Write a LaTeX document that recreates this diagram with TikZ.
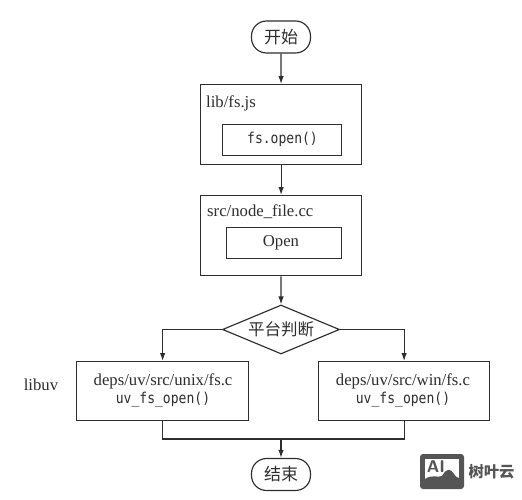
\documentclass[tikz,border=0pt]{standalone}
\usepackage{fontspec}
\setmainfont{Liberation Serif}
\newfontfamily\codefont[FakeStretch=0.87]{DejaVu Sans Mono}
\newfontfamily\cjk{Noto Sans CJK SC}
\usetikzlibrary{arrows.meta,shapes.geometric}
\definecolor{ink}{HTML}{2E2E2E}
\definecolor{logo}{HTML}{555555}
\tikzset{
  x=1pt,y=-1pt,
  box/.style={draw=ink,line width=1.25pt,fill=white,inner sep=0pt,anchor=north west},
  innerbox/.style={draw=ink,line width=1.15pt,inner sep=0pt,anchor=north west},
  term/.style={draw=ink,line width=1.15pt,rounded corners=15pt,inner sep=0pt,minimum width=59pt,minimum height=32pt,text=ink},
  dec/.style={draw=ink,line width=1.15pt,diamond,aspect=2.4,inner sep=0pt,minimum width=117pt,minimum height=49pt,text=ink},
  conn/.style={draw=ink,line width=1.15pt,-{Latex[length=8pt,width=5.5pt]}},
  plainconn/.style={draw=ink,line width=1.15pt},
  lab/.style={text=ink,inner sep=0pt,font=\fontsize{16.7}{18}\selectfont},
  code/.style={text=ink,inner sep=0pt,font=\codefont\fontsize{15}{17}\selectfont}
}
\begin{document}
\begin{tikzpicture}
\useasboundingbox (0,0) rectangle (522,500);
\node[term,font=\cjk\fontsize{17}{18}\selectfont] (start) at (281,37) {开始};
\node[box,minimum width=161pt,minimum height=80pt] (lib) at (200,84) {};
\node[lab,anchor=west] (libt) at (206,103) {lib/fs.js};
\node[innerbox,minimum width=119pt,minimum height=31pt] (libi) at (222,124) {};
\node[code] (libc) at (282.5,139.5) {fs.open()};
\node[box,minimum width=161pt,minimum height=80pt] (src) at (200,195) {};
\node[lab,anchor=west] (srct) at (207,212) {src/node\_file.cc};
\node[innerbox,minimum width=115pt,minimum height=31pt] (srci) at (226,227) {};
\node[lab] (open) at (281,243) {Open};
\node[dec,font=\cjk\fontsize{16.5}{18}\selectfont] (d) at (281,329.5) {平台判断};
\node[box,minimum width=172pt,minimum height=59pt] (l) at (76,361) {};
\node[lab] (lt) at (163,381) {deps/uv/src/unix/fs.c};
\node[code] (lc) at (163,400) {uv\_fs\_open()};
\node[box,minimum width=171pt,minimum height=59pt] (r) at (318,361) {};
\node[lab] (rt) at (403,381) {deps/uv/src/win/fs.c};
\node[code] (rc) at (403,400) {uv\_fs\_open()};
\node[lab] (uv) at (41,385) {libuv};
\node[term,font=\cjk\fontsize{17}{18}\selectfont] (end) at (281,474.5) {结束};
\coordinate (m) at (281,439);
\draw[conn] (start) -- (lib);
\draw[conn] (lib) -- (src);
\draw[conn] (src) -- (d);
\draw[conn] (d.west) -| (l.north);
\draw[conn] (d.east) -| (r.north);
\draw[plainconn] (l.south) |- (m);
\draw[plainconn] (r.south) |- (m);
\draw[conn] (m) -- (end);
% logo
\fill[logo,rounded corners=3pt] (420,454) rectangle (464,489);
\fill[white] (425,459) rectangle (459,484);
\fill[logo] (425,484) -- (425,479) .. controls (432,474) and (438,478) .. (442,476) .. controls (447,467) and (451,469) .. (454,474) .. controls (456,477) and (458,478) .. (459,478) -- (459,484) -- cycle;
\node[text=logo,inner sep=0pt,font=\sffamily\bfseries\fontsize{17}{17}\selectfont] (ai) at (436,467) {AI};
\node[text=logo,inner sep=0pt,font=\cjk\bfseries\fontsize{15.3}{16}\selectfont] (lg) at (491.5,472) {树叶云};
\end{tikzpicture}
\end{document}
